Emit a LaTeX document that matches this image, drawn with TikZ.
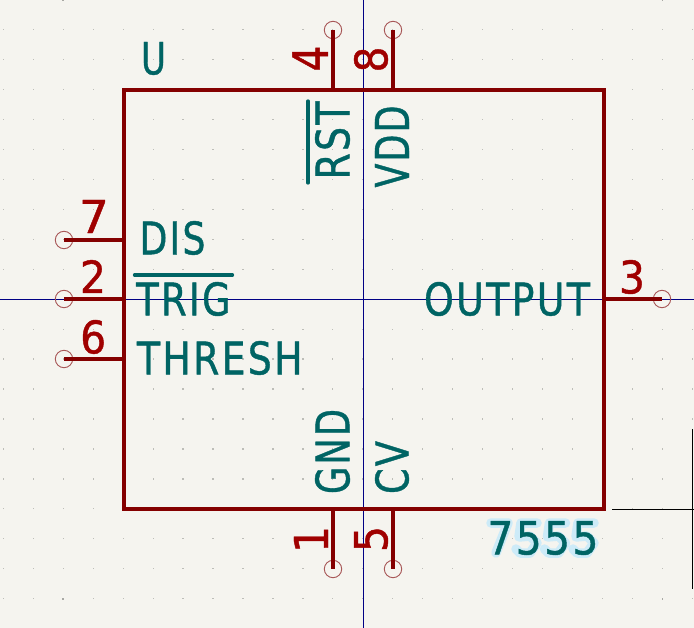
\documentclass[tikz,border=0pt]{standalone}
\usepackage{graphicx}
\usepackage{fontspec}
\setmainfont[FakeBold=1]{DejaVu Sans}
\newfontfamily\widefont[LetterSpace=6,FakeBold=1]{DejaVu Sans}
\definecolor{bgc}{HTML}{F5F4EF}
\definecolor{bodyc}{HTML}{840000}
\definecolor{numc}{HTML}{A00000}
\definecolor{namec}{HTML}{006464}
\definecolor{endc}{HTML}{A85858}
\definecolor{axisc}{HTML}{000084}
\definecolor{haloc}{HTML}{CDEBF8}
\definecolor{dotc}{HTML}{BDBDB8}
\definecolor{bigdotc}{HTML}{A8A8A4}
\newcommand{\fitbox}[3]{\resizebox*{#1pt}{#2pt}{#3}}
\tikzset{
  every node/.style={inner sep=0pt,outer sep=0pt},
  ic/.style={draw=bodyc,line width=4pt,minimum width=479.5pt,minimum height=419pt,rectangle},
  pinline/.style={draw=bodyc,line width=3.3pt},
  pinend/.style={circle,draw=endc,line width=0.9pt,minimum size=17.4pt},
  pinname/.style={text=namec,font=\widefont},
  pinnum/.style={text=numc},
  bar/.style={draw=namec,line width=3.3pt,line cap=round},
  axis/.style={draw=axisc,line width=0.9pt},
  cursor/.style={draw=black,line width=0.9pt},
  halo/.style={draw=haloc,line width=9.5pt,line cap=round,line join=round},
}
\begin{document}
\begin{tikzpicture}[x=1pt,y=-1pt]
\useasboundingbox (0,0) rectangle (694,628);
\fill[bgc] (0,0) rectangle (694,628);
% grid
\foreach \i in {0,...,23}{
  \foreach \j in {0,...,20}{
    \pgfmathsetmacro{\gx}{3.3+29.96*\i}
    \pgfmathsetmacro{\gy}{-0.3+29.95*\j}
    \fill[dotc] (\gx-0.6,\gy-0.6) rectangle (\gx+0.6,\gy+0.6);
  }
}
\foreach \i in {2,22}{
  \foreach \j in {0,20}{
    \pgfmathsetmacro{\gx}{3.3+29.96*\i}
    \pgfmathsetmacro{\gy}{-0.3+29.95*\j}
    \fill[bigdotc] (\gx-0.9,\gy-0.9) rectangle (\gx+0.9,\gy+0.9);
  }
}
% axes and cursor
\draw[axis] (0,299.3) -- (694,299.3);
\draw[axis] (363.5,0) -- (363.5,628);
\draw[cursor] (612,509.5) -- (694,509.5);
\draw[cursor] (692.7,429) -- (692.7,589);
% body
\node[ic] (u) at (363.75,299.5) {};
% pin ends
\node[pinend] (p4) at (333,30) {};
\node[pinend] (p8) at (393,30) {};
\node[pinend] (p7) at (64,240) {};
\node[pinend] (p2) at (64,299) {};
\node[pinend] (p6) at (64,359) {};
\node[pinend] (p3) at (662,299) {};
\node[pinend] (p1) at (333,569) {};
\node[pinend] (p5) at (393,569) {};
% pins
\draw[pinline] (u.north -| p4.center) -- (p4.center) ;
\draw[pinline] (u.north -| p8.center) -- (p8.center);
\draw[pinline] (u.west |- p7.center) -- (p7.center);
\draw[pinline] (u.west |- p2.center) -- (p2.center);
\draw[pinline] (u.west |- p6.center) -- (p6.center);
\draw[pinline] (u.east |- p3.center) -- (p3.center);
\draw[pinline] (u.south -| p1.center) -- (p1.center);
\draw[pinline] (u.south -| p5.center) -- (p5.center);
% pin numbers
\node[pinnum] (n7) at (94,216.5) {\fitbox{30}{33}{7}};
\node[pinnum] (n2) at (93,276.5) {\fitbox{26}{33}{2}};
\node[pinnum] (n6) at (93.2,337) {\fitbox{26}{34}{6}};
\node[pinnum] (n3) at (632,277) {\fitbox{26}{34}{3}};
\node[pinnum,rotate=90] (n4) at (310.2,58.5) {\fitbox{26}{35.5}{4}};
\node[pinnum,rotate=90] (n8) at (371,59.5) {\fitbox{26}{34}{8}};
\node[pinnum,rotate=90] (n1) at (311,539.5) {\fitbox{27}{34}{1}};
\node[pinnum,rotate=90] (n5) at (371,539) {\fitbox{26}{34}{5}};
% pin names
\node[pinname] (tu) at (153.5,58.5) {\fitbox{25}{33}{U}};
\node[pinname] (tdis) at (172.5,238) {\fitbox{66}{34}{DIS}};
\node[pinname] (ttrig) at (183.5,299) {\fitbox{94.5}{34}{TRIG}};
\draw[bar] (134.5,275) -- (232.5,275);
\node[pinname] (tthresh) at (219.8,358) {\fitbox{165.5}{34}{THRESH}};
\node[pinname] (toutput) at (507,299) {\fitbox{166}{34}{OUTPUT}};
\node[pinname,rotate=90] (trst) at (332.5,140.5) {\fitbox{78}{35}{RST}};
\draw[bar] (308,101) -- (308,183);
\node[pinname,rotate=90] (tvdd) at (392,146.5) {\fitbox{82}{34}{VDD}};
\node[pinname,rotate=90] (tgnd) at (332.5,451.5) {\fitbox{85}{35}{GND}};
\node[pinname,rotate=90] (tcv) at (392,467.5) {\fitbox{53}{34}{CV}};
% highlighted value
\draw[halo] (491,523) -- (508,523) -- (496,553);
\foreach \ox in {0,28.5,57}{
  \begin{scope}[xshift=\ox pt]
    \draw[halo] (537,523) -- (521,523) -- (519,537) -- (530,536) -- (537,543) -- (530,553) -- (520,553) -- (516,549);
  \end{scope}
}
\node[pinname] (tval) at (543,538) {\fitbox{111}{34}{7555}};
\end{tikzpicture}
\end{document}
